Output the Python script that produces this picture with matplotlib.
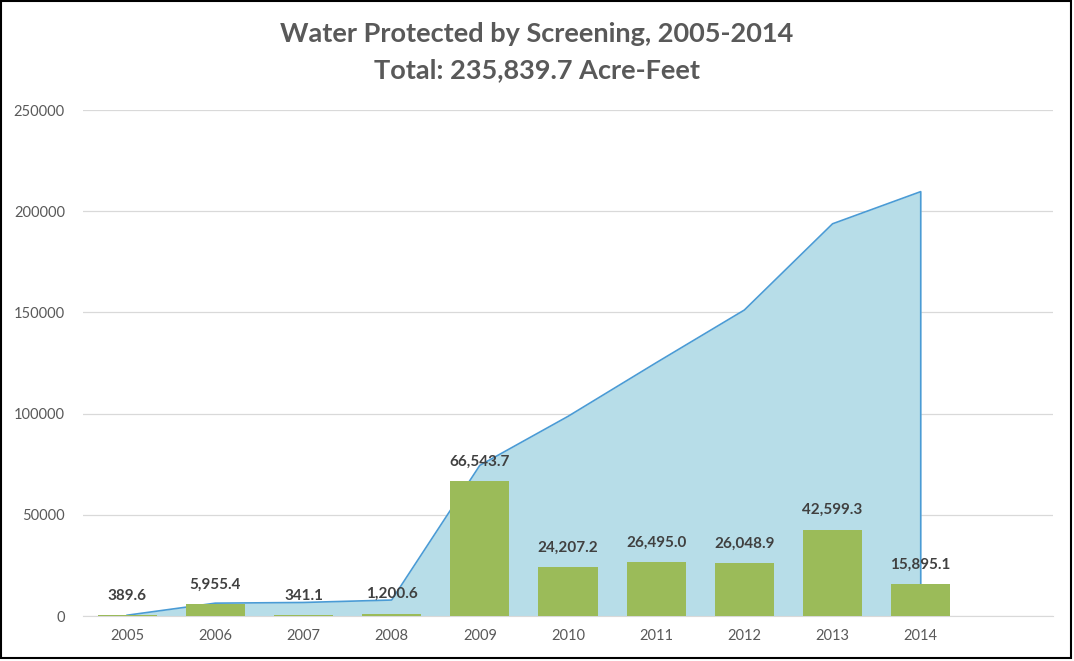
import matplotlib.pyplot as plt
from matplotlib.patches import Rectangle
import numpy as np

years = ['2005', '2006', '2007', '2008', '2009', '2010', '2011', '2012', '2013', '2014']
annual = [389.6, 5955.4, 341.1, 1200.6, 66543.7, 24207.2, 26495.0, 26048.9, 42599.3, 15895.1]
cumulative = np.cumsum(annual)

plt.rcParams['font.family'] = ['Lato', 'DejaVu Sans']

fig = plt.figure(figsize=(10.74, 6.61), dpi=100)
ax = fig.add_axes([83 / 1074, 1 - 616 / 661, (1053 - 83) / 1074, (616 - 110) / 661])

x = np.arange(len(years))

# cumulative area behind the bars
ax.fill_between(x, 0, cumulative, color='#B7DDE8', lw=0, zorder=1)
ax.plot(list(x) + [x[-1]], list(cumulative) + [0], color='#4A9BD5', lw=1.2, zorder=2)

bars = ax.bar(x, annual, width=0.67, color='#9BBB59', zorder=3)
for xi, v in zip(x, annual):
    ax.annotate(f'{v:,.1f}', (xi, v), xytext=(0, 9), textcoords='offset points',
                ha='center', va='bottom', fontsize=11, fontweight='bold', color='#404040', zorder=4)

ax.set_xlim(-0.5, len(years) + 0.5)
ax.set_ylim(0, 250000)
ax.set_yticks(range(0, 250001, 50000))
ax.set_yticklabels([str(v) for v in range(0, 250001, 50000)])
ax.set_xticks(x)
ax.set_xticklabels(years)
ax.tick_params(axis='both', length=0, labelsize=10.5, labelcolor='#595959')
ax.tick_params(axis='y', pad=13)
ax.tick_params(axis='x', pad=9)
ax.grid(axis='y', color='#D9D9D9', lw=0.9, zorder=0)
ax.set_axisbelow(True)
for s in ['top', 'right', 'left']:
    ax.spines[s].set_visible(False)
ax.spines['bottom'].set_color('#D9D9D9')

fig.text(0.5, 1 - 34 / 661, 'Water Protected by Screening, 2005-2014', ha='center', va='center',
         fontsize=19.5, fontweight='bold', color='#595959')
fig.text(0.5, 1 - 70 / 661, 'Total: 235,839.7 Acre-Feet', ha='center', va='center',
         fontsize=19.5, fontweight='bold', color='#595959')

fig.patches.append(Rectangle((0.001, 0.004), 0.996, 0.994, transform=fig.transFigure,
                             fill=False, edgecolor='black', lw=1.5))

fig.savefig('out.png', dpi=100)
